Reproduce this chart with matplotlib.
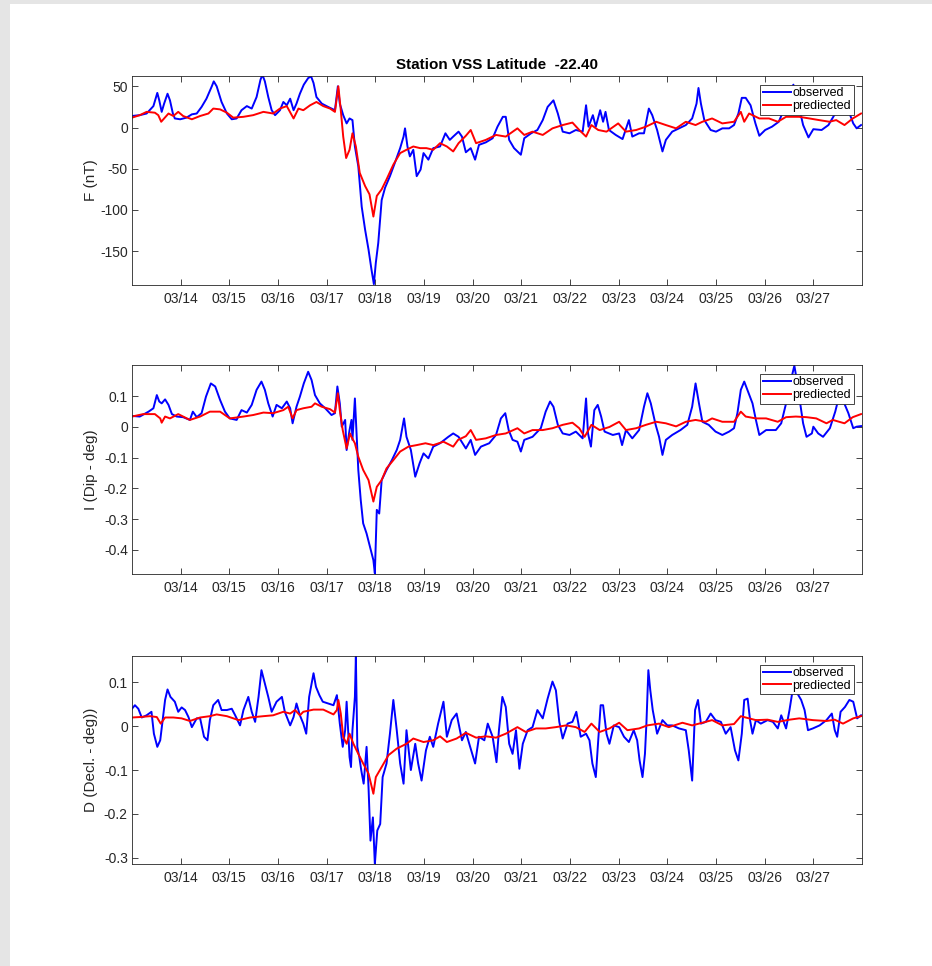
import matplotlib
matplotlib.use('Agg')
import matplotlib.pyplot as plt
from matplotlib.patches import Rectangle

plt.rcParams['font.family'] = ['Liberation Sans', 'DejaVu Sans']
plt.rcParams['axes.unicode_minus'] = False

# time axis: day of March (float)
tick_days = list(range(14, 28))
tick_labels = ['03/%02d' % d for d in tick_days]

# ---- F (nT) ----
f_obs_day = [13.00, 13.16, 13.30, 13.44, 13.52, 13.56, 13.61, 13.66, 13.73, 13.78, 13.84, 13.88, 13.99,
             14.12, 14.23, 14.33, 14.43, 14.53, 14.64, 14.68, 14.74, 14.84, 14.95, 15.05, 15.15, 15.25,
             15.36, 15.46, 15.56, 15.64, 15.68, 15.73, 15.80, 15.87, 15.94, 16.04, 16.11, 16.18, 16.25,
             16.32, 16.38, 16.45, 16.53, 16.62, 16.68, 16.73, 16.79, 16.90, 17.03, 17.17, 17.23, 17.27,
             17.34, 17.41, 17.47, 17.53, 17.58, 17.65, 17.72, 17.79, 17.86, 17.92, 17.97, 18.01, 18.06,
             18.13, 18.20, 18.30, 18.40, 18.51, 18.58, 18.61, 18.66, 18.71, 18.78, 18.85, 18.93, 18.99,
             19.09, 19.19, 19.33, 19.44, 19.53, 19.60, 19.71, 19.78, 19.86, 19.96, 20.05, 20.13, 20.27,
             20.41, 20.51, 20.62, 20.68, 20.75, 20.85, 20.99, 21.06, 21.20, 21.33, 21.44, 21.54, 21.66,
             21.75, 21.85, 21.99, 22.12, 22.26, 22.33, 22.38, 22.47, 22.53, 22.62, 22.68, 22.73, 22.80,
             22.94, 23.08, 23.21, 23.28, 23.42, 23.52, 23.62, 23.69, 23.79, 23.90, 23.97, 24.10, 24.24,
             24.38, 24.51, 24.60, 24.64, 24.69, 24.76, 24.89, 25.00, 25.13, 25.27, 25.37, 25.46, 25.53,
             25.61, 25.71, 25.81, 25.89, 26.01, 26.15, 26.29, 26.39, 26.49, 26.59, 26.69, 26.79, 26.90,
             27.00, 27.17, 27.31, 27.45, 27.55, 27.72, 27.82, 27.89, 27.98]
f_obs = [14, 15, 17, 26, 42, 33, 19, 29, 41, 33, 17, 11, 10,
         12, 16, 17, 25, 35, 50, 56, 50, 31, 17, 10, 11, 21,
         26, 23, 37, 58, 64, 56, 37, 21, 15, 21, 31, 27, 35,
         21, 29, 41, 52, 60, 62, 54, 37, 29, 25, 21, 50, 29,
         15, 5, 11, 9, -23, -47, -96, -124, -148, -172, -190, -164, -140,
         -88, -73, -59, -43, -25, -11, -1, -23, -35, -27, -59, -51, -31,
         -39, -25, -23, -7, -15, -11, -5, -11, -30, -25, -39, -21, -18,
         -13, 1, 13, 13, -15, -25, -33, -13, -7, -3, 9, 25, 33,
         17, -5, -7, -3, -5, 27, 1, 15, 1, 21, 7, 19, -3,
         -9, -14, 9, -11, -7, -7, 23, 15, -3, -29, -15, -5, -1,
         3, 11, 29, 48, 29, 9, -3, -5, -1, -1, 3, 17, 36,
         36, 27, 5, -10, -3, 1, 7, 21, 38, 52, 29, 3, -12,
         -2, -3, 3, 17, 31, 21, 5, -1, 3]
f_pred_day = [13.00, 13.16, 13.30, 13.47, 13.54, 13.60, 13.66, 13.75, 13.85, 13.95, 14.05, 14.23, 14.40,
              14.57, 14.67, 14.81, 14.95, 15.08, 15.29, 15.49, 15.70, 15.90, 16.04, 16.18, 16.32, 16.42,
              16.52, 16.66, 16.79, 16.93, 17.07, 17.17, 17.24, 17.29, 17.34, 17.40, 17.47, 17.53, 17.60,
              17.68, 17.79, 17.88, 17.96, 18.03, 18.13, 18.23, 18.37, 18.51, 18.64, 18.78, 18.92, 19.05,
              19.19, 19.33, 19.47, 19.60, 19.71, 19.86, 19.96, 20.07, 20.27, 20.48, 20.68, 20.92, 21.06,
              21.23, 21.44, 21.64, 21.85, 22.05, 22.19, 22.33, 22.44, 22.58, 22.75, 22.99, 23.15, 23.36,
              23.56, 23.77, 23.97, 24.18, 24.38, 24.58, 24.72, 24.92, 25.13, 25.37, 25.51, 25.58, 25.68,
              25.89, 26.09, 26.27, 26.44, 26.71, 26.92, 27.12, 27.33, 27.47, 27.64, 27.81, 27.98]
f_pred = [12, 15, 19, 18, 15, 7, 11, 17, 14, 19, 14, 10, 14,
          17, 23, 22, 18, 12, 13, 15, 19, 17, 23, 26, 11, 23,
          21, 27, 31, 26, 23, 19, 50, 21, -11, -37, -27, -7, -23,
          -55, -71, -81, -108, -83, -75, -63, -45, -31, -27, -23, -25, -25,
          -27, -19, -23, -29, -19, -10, -3, -19, -15, -9, -11, -1, -9,
          -5, -9, -1, 3, 6, -3, -11, 3, -3, -5, 5, -5, -3,
          1, 7, 3, -1, 7, 3, 7, 11, 5, 7, 19, 7, 17,
          11, 11, 7, 13, 13, 11, 9, 7, 9, 3, 11, 17]

# ---- I (Dip - deg) ----
i_obs_day = [13.00, 13.16, 13.34, 13.44, 13.51, 13.56, 13.61, 13.68, 13.75, 13.82, 13.92, 14.05, 14.19,
             14.25, 14.33, 14.43, 14.52, 14.62, 14.71, 14.81, 14.91, 15.01, 15.15, 15.25, 15.36, 15.46,
             15.56, 15.66, 15.73, 15.80, 15.89, 15.97, 16.08, 16.18, 16.25, 16.30, 16.38, 16.45, 16.53,
             16.62, 16.69, 16.76, 16.86, 16.97, 17.10, 17.17, 17.22, 17.27, 17.31, 17.38, 17.41, 17.47,
             17.51, 17.53, 17.58, 17.62, 17.65, 17.70, 17.75, 17.82, 17.89, 17.96, 17.99, 18.03, 18.08,
             18.13, 18.23, 18.34, 18.44, 18.51, 18.59, 18.64, 18.73, 18.82, 18.91, 18.99, 19.09, 19.19,
             19.33, 19.50, 19.60, 19.71, 19.86, 19.96, 20.05, 20.17, 20.34, 20.48, 20.58, 20.67, 20.74,
             20.82, 20.92, 20.99, 21.06, 21.23, 21.40, 21.50, 21.59, 21.66, 21.75, 21.85, 21.99, 22.12,
             22.26, 22.33, 22.37, 22.43, 22.50, 22.57, 22.64, 22.71, 22.88, 23.01, 23.07, 23.15, 23.28,
             23.42, 23.52, 23.59, 23.66, 23.76, 23.83, 23.90, 23.97, 24.10, 24.27, 24.41, 24.51, 24.58,
             24.65, 24.72, 24.85, 24.99, 25.13, 25.27, 25.37, 25.44, 25.51, 25.58, 25.67, 25.75, 25.82,
             25.89, 26.03, 26.23, 26.34, 26.44, 26.54, 26.61, 26.66, 26.73, 26.79, 26.86, 26.97, 27.00,
             27.10, 27.20, 27.34, 27.45, 27.51, 27.62, 27.72, 27.82, 27.89, 27.98]
i_obs = [0.036, 0.034, 0.050, 0.061, 0.104, 0.083, 0.077, 0.090, 0.072, 0.042, 0.034, 0.032, 0.023,
         0.050, 0.032, 0.045, 0.099, 0.142, 0.132, 0.088, 0.050, 0.028, 0.023, 0.055, 0.047, 0.072,
         0.121, 0.148, 0.121, 0.077, 0.034, 0.072, 0.061, 0.083, 0.061, 0.012, 0.066, 0.099, 0.142,
         0.180, 0.153, 0.104, 0.077, 0.061, 0.039, 0.045, 0.132, 0.077, 0.001, 0.023, -0.075, -0.010,
         0.023, -0.042, 0.093, -0.042, -0.140, -0.238, -0.314, -0.347, -0.390, -0.434, -0.477, -0.270, -0.282,
         -0.173, -0.140, -0.108, -0.075, -0.042, 0.028, -0.032, -0.075, -0.162, -0.118, -0.086, -0.102, -0.064,
         -0.053, -0.032, -0.021, -0.032, -0.070, -0.042, -0.091, -0.064, -0.053, -0.026, 0.028, 0.045, -0.010,
         -0.042, -0.048, -0.080, -0.042, -0.032, -0.004, 0.050, 0.083, 0.066, 0.007, -0.021, -0.026, -0.015,
         -0.037, 0.093, -0.021, -0.064, 0.055, 0.072, 0.034, -0.015, -0.026, -0.021, -0.059, -0.010, -0.037,
         -0.010, 0.066, 0.110, 0.077, 0.007, -0.032, -0.091, -0.042, -0.026, -0.010, 0.007, 0.066, 0.142,
         0.077, 0.017, 0.007, -0.015, -0.026, -0.015, -0.004, 0.045, 0.121, 0.148, 0.110, 0.077, 0.023,
         -0.026, -0.010, -0.010, 0.012, 0.077, 0.153, 0.200, 0.153, 0.077, 0.012, -0.032, -0.021, 0.001,
         -0.021, -0.032, -0.004, 0.050, 0.088, 0.083, 0.045, -0.004, 0.001, 0.003]
i_pred_day = [13.00, 13.23, 13.47, 13.58, 13.61, 13.68, 13.78, 13.95, 14.19, 14.40, 14.60, 14.81, 15.01,
              15.29, 15.49, 15.70, 15.90, 16.11, 16.21, 16.30, 16.38, 16.52, 16.69, 16.76, 16.90, 17.07,
              17.17, 17.23, 17.27, 17.33, 17.41, 17.48, 17.51, 17.58, 17.65, 17.75, 17.86, 17.96, 18.03,
              18.13, 18.23, 18.37, 18.51, 18.68, 18.85, 19.03, 19.19, 19.40, 19.60, 19.70, 19.86, 19.96,
              20.07, 20.27, 20.48, 20.68, 20.92, 21.06, 21.23, 21.44, 21.64, 21.85, 22.05, 22.19, 22.30,
              22.44, 22.61, 22.81, 23.01, 23.15, 23.36, 23.56, 23.77, 23.97, 24.18, 24.38, 24.58, 24.79,
              24.92, 25.13, 25.37, 25.51, 25.61, 25.82, 26.03, 26.27, 26.44, 26.64, 26.86, 27.06, 27.27,
              27.40, 27.64, 27.81, 27.98]
i_pred = [0.034, 0.042, 0.042, 0.028, 0.014, 0.034, 0.028, 0.042, 0.023, 0.034, 0.050, 0.050, 0.028,
          0.034, 0.039, 0.047, 0.045, 0.055, 0.066, 0.028, 0.055, 0.061, 0.066, 0.077, 0.066, 0.058,
          0.047, 0.110, 0.055, -0.010, -0.070, -0.021, -0.032, -0.053, -0.097, -0.140, -0.173, -0.243, -0.195,
          -0.173, -0.135, -0.108, -0.080, -0.064, -0.059, -0.053, -0.059, -0.048, -0.064, -0.042, -0.030, -0.010,
          -0.042, -0.037, -0.026, -0.021, -0.004, -0.021, -0.010, -0.010, -0.004, 0.007, 0.014, -0.004, -0.032,
          0.007, -0.010, 0.000, 0.017, -0.010, -0.004, 0.007, 0.017, 0.012, 0.002, 0.017, 0.023, 0.017,
          0.028, 0.017, 0.017, 0.050, 0.034, 0.028, 0.028, 0.017, 0.032, 0.034, 0.032, 0.028, 0.012,
          0.023, 0.012, 0.032, 0.042]

# ---- D (Decl. - deg) ----
d_obs_day = [13.00, 13.06, 13.13, 13.20, 13.30, 13.40, 13.45, 13.52, 13.58, 13.63, 13.68, 13.73, 13.79,
             13.88, 13.95, 14.02, 14.09, 14.16, 14.23, 14.33, 14.40, 14.48, 14.55, 14.60, 14.67, 14.77,
             14.84, 14.95, 15.05, 15.12, 15.22, 15.29, 15.39, 15.46, 15.53, 15.60, 15.66, 15.73, 15.80,
             15.87, 15.97, 16.08, 16.14, 16.25, 16.32, 16.38, 16.45, 16.52, 16.58, 16.64, 16.73, 16.78,
             16.85, 16.92, 17.03, 17.14, 17.21, 17.27, 17.33, 17.38, 17.41, 17.47, 17.50, 17.53, 17.58,
             17.60, 17.63, 17.67, 17.71, 17.76, 17.82, 17.86, 17.90, 17.95, 17.99, 18.04, 18.10, 18.15,
             18.23, 18.30, 18.37, 18.44, 18.51, 18.58, 18.64, 18.73, 18.82, 18.88, 18.95, 19.04, 19.12,
             19.19, 19.29, 19.40, 19.47, 19.57, 19.67, 19.78, 19.86, 19.93, 20.05, 20.13, 20.24, 20.31,
             20.41, 20.49, 20.54, 20.61, 20.68, 20.75, 20.82, 20.89, 20.96, 21.03, 21.13, 21.23, 21.33,
             21.44, 21.54, 21.64, 21.71, 21.78, 21.85, 21.95, 22.05, 22.13, 22.22, 22.33, 22.40, 22.46,
             22.53, 22.58, 22.63, 22.68, 22.75, 22.81, 22.90, 23.01, 23.11, 23.21, 23.31, 23.38, 23.43,
             23.49, 23.54, 23.57, 23.61, 23.65, 23.70, 23.79, 23.90, 24.00, 24.10, 24.24, 24.38, 24.44,
             24.51, 24.57, 24.63, 24.69, 24.79, 24.89, 24.99, 25.10, 25.20, 25.30, 25.39, 25.46, 25.53,
             25.58, 25.65, 25.70, 25.75, 25.82, 25.92, 26.06, 26.17, 26.27, 26.34, 26.44, 26.51, 26.58,
             26.65, 26.75, 26.82, 26.89, 26.99, 27.13, 27.27, 27.38, 27.44, 27.49, 27.56, 27.65, 27.74,
             27.82, 27.90, 27.98]
d_obs = [0.040, 0.048, 0.040, 0.020, 0.025, 0.033, -0.017, -0.047, -0.032, 0.014, 0.060, 0.084, 0.067,
         0.056, 0.033, 0.043, 0.037, 0.021, -0.002, 0.018, 0.018, -0.024, -0.032, 0.014, 0.048, 0.060,
         0.037, 0.037, 0.040, 0.025, 0.002, 0.037, 0.067, 0.033, 0.010, 0.067, 0.128, 0.098, 0.067,
         0.033, 0.056, 0.067, 0.033, 0.002, 0.021, 0.052, 0.025, 0.006, -0.017, 0.067, 0.121, 0.090,
         0.071, 0.056, 0.052, 0.048, 0.071, 0.006, -0.047, -0.009, 0.056, -0.070, -0.093, -0.009, 0.067,
         0.159, -0.047, -0.070, -0.100, -0.131, -0.047, -0.139, -0.261, -0.208, -0.315, -0.238, -0.223, -0.116,
         -0.085, -0.017, 0.060, -0.009, -0.085, -0.131, -0.009, -0.100, -0.040, -0.085, -0.124, -0.055, -0.024,
         -0.047, 0.006, 0.056, -0.024, 0.014, 0.029, -0.032, -0.013, -0.040, -0.085, -0.024, -0.032, 0.006,
         -0.024, -0.082, -0.009, 0.067, 0.044, -0.040, -0.063, -0.009, -0.097, -0.040, -0.009, -0.002, 0.037,
         0.018, 0.063, 0.102, 0.082, 0.010, -0.028, 0.006, 0.010, 0.033, -0.024, -0.017, -0.032, -0.085,
         -0.116, -0.032, 0.048, 0.048, -0.017, -0.040, 0.002, -0.002, -0.024, -0.036, -0.009, -0.032, -0.078,
         -0.116, -0.063, 0.006, 0.128, 0.082, 0.037, -0.017, 0.014, 0.002, 0.002, -0.005, -0.009, -0.055,
         -0.124, 0.037, 0.060, 0.006, 0.010, 0.029, 0.014, 0.010, -0.017, -0.002, -0.055, -0.078, -0.017,
         0.060, 0.063, 0.014, -0.017, 0.014, 0.006, 0.014, 0.010, -0.005, 0.025, -0.005, 0.037, 0.086,
         0.079, 0.060, 0.037, -0.009, -0.005, 0.002, 0.014, 0.029, -0.009, -0.024, 0.033, 0.044, 0.060,
         0.056, 0.018, 0.025]
d_pred_day = [13.00, 13.16, 13.37, 13.51, 13.59, 13.68, 13.85, 14.02, 14.19, 14.40, 14.60, 14.74, 14.95,
              15.19, 15.43, 15.70, 15.90, 16.11, 16.25, 16.35, 16.45, 16.52, 16.73, 16.93, 17.14, 17.21,
              17.24, 17.29, 17.34, 17.41, 17.47, 17.55, 17.65, 17.75, 17.86, 17.96, 18.01, 18.13, 18.27,
              18.44, 18.64, 18.78, 18.99, 19.19, 19.33, 19.47, 19.67, 19.86, 20.07, 20.27, 20.48, 20.68,
              20.92, 21.09, 21.30, 21.50, 21.71, 21.92, 22.12, 22.30, 22.44, 22.61, 22.81, 23.01, 23.18,
              23.42, 23.59, 23.83, 24.03, 24.31, 24.51, 24.72, 24.92, 25.13, 25.37, 25.51, 25.61, 25.82,
              26.06, 26.27, 26.51, 26.71, 26.99, 27.27, 27.44, 27.61, 27.82, 27.98]
d_pred = [0.020, 0.021, 0.023, 0.021, 0.006, 0.020, 0.020, 0.018, 0.012, 0.020, 0.023, 0.027, 0.023,
          0.014, 0.020, 0.023, 0.025, 0.033, 0.029, 0.037, 0.025, 0.033, 0.038, 0.038, 0.027, 0.037,
          0.060, 0.029, -0.024, -0.040, -0.017, -0.040, -0.063, -0.085, -0.108, -0.154, -0.116, -0.093, -0.066,
          -0.051, -0.040, -0.028, -0.036, -0.032, -0.023, -0.036, -0.028, -0.015, -0.026, -0.023, -0.026, -0.017,
          -0.002, -0.013, -0.005, -0.005, -0.002, 0.002, -0.002, -0.013, 0.006, -0.013, -0.005, 0.008, -0.009,
          -0.005, 0.002, 0.006, -0.002, 0.008, 0.002, 0.008, 0.014, 0.002, 0.005, 0.023, 0.020, 0.014,
          0.015, 0.010, 0.015, 0.018, 0.014, 0.012, 0.015, 0.006, 0.018, 0.023]

panels = [
    (f_obs_day, f_obs, f_pred_day, f_pred, 'F (nT)', (-191, 62.5), [-150, -100, -50, 0, 50], ['-150', '-100', '-50', '0', '50']),
    (i_obs_day, i_obs, i_pred_day, i_pred, 'I (Dip - deg)', (-0.48, 0.202), [-0.4, -0.3, -0.2, -0.1, 0, 0.1], ['-0.4', '-0.3', '-0.2', '-0.1', '0', '0.1']),
    (d_obs_day, d_obs, d_pred_day, d_pred, 'D (Decl. - deg))', (-0.315, 0.161), [-0.3, -0.2, -0.1, 0, 0.1], ['-0.3', '-0.2', '-0.1', '0', '0.1']),
]

W, H = 932, 966
fig = plt.figure(figsize=(W / 100, H / 100), dpi=100, facecolor='#e5e5e5')
fig.patches.append(Rectangle((10 / W, 0), 1 - 10 / W, 1 - 4 / H, transform=fig.transFigure,
                             facecolor='white', edgecolor='none', zorder=-10))

axes_rect = [(76, 285), (365, 574.3), (655.7, 864.3)]
axis_col = '#262626'

for (t_o, v_o, t_p, v_p, ylab, ylim, yt, ytl), (top, bot) in zip(panels, axes_rect):
    ax = fig.add_axes([132 / W, 1 - bot / H, 730 / W, (bot - top) / H])
    ax.plot(t_o, v_o, color='#0000ff', lw=1.4, label='observed')
    ax.plot(t_p, v_p, color='#ff0000', lw=1.4, label='prediected')
    ax.set_xlim(13, 28)
    ax.set_ylim(*ylim)
    ax.set_xticks(tick_days)
    ax.set_xticklabels(tick_labels)
    ax.set_yticks(yt)
    ax.set_yticklabels(ytl)
    ax.tick_params(direction='in', length=4, width=0.6, colors=axis_col, labelsize=10,
                   top=True, right=True)
    ax.tick_params(axis='x', pad=5)
    ax.tick_params(axis='y', pad=3)
    for s in ax.spines.values():
        s.set_color(axis_col)
        s.set_linewidth(0.6)
    ax.set_ylabel(ylab, fontsize=11, color=axis_col)
    ax.yaxis.set_label_coords(-0.046, 0.5)
    leg = ax.legend(loc='upper right', bbox_to_anchor=(0.9886, 0.957), borderaxespad=0,
                    fontsize=9, frameon=True, fancybox=False, framealpha=1,
                    edgecolor=axis_col, borderpad=0.2, handlelength=2.3,
                    handletextpad=0.1, labelspacing=0.05)
    leg.get_frame().set_linewidth(0.6)
    if top == 76:
        ax.set_title('Station VSS Latitude  -22.40', fontsize=11, fontweight='bold', pad=5)

fig.savefig('out.png', dpi=100, facecolor=fig.get_facecolor())
